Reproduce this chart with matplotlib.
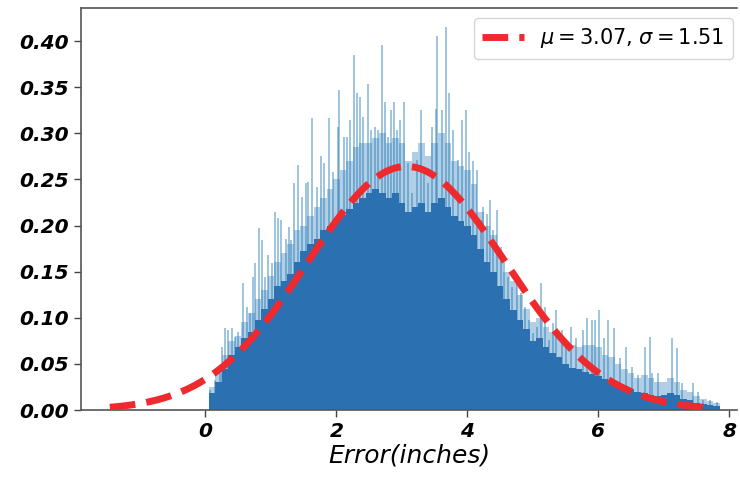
import numpy as np
import matplotlib
matplotlib.use("Agg")
import matplotlib.pyplot as plt

# fitted normal (from the legend)
mu = 3.07
sigma = 1.51

# histogram read at 0.1 wide bins: dense dark part and the lighter band above it
bin_x = [round(0.1 * i, 1) for i in range(1, 79)]
solid_h = [0.018, 0.030, 0.045, 0.060, 0.068, 0.078, 0.085, 0.098, 0.110, 0.120,
           0.135, 0.140, 0.148, 0.160, 0.172, 0.180, 0.185, 0.195, 0.200, 0.205,
           0.212, 0.218, 0.225, 0.230, 0.235, 0.240, 0.235, 0.230, 0.235, 0.225,
           0.215, 0.220, 0.225, 0.215, 0.225, 0.230, 0.220, 0.210, 0.205, 0.200,
           0.190, 0.175, 0.160, 0.150, 0.135, 0.120, 0.108, 0.098, 0.088, 0.075,
           0.078, 0.068, 0.062, 0.058, 0.050, 0.046, 0.044, 0.041, 0.039, 0.037,
           0.034, 0.031, 0.029, 0.026, 0.023, 0.020, 0.018, 0.016, 0.015, 0.016,
           0.018, 0.016, 0.012, 0.011, 0.008, 0.006, 0.005, 0.004]
mid_h = [0.025, 0.040, 0.060, 0.075, 0.080, 0.095, 0.105, 0.120, 0.130, 0.145,
         0.160, 0.170, 0.180, 0.195, 0.200, 0.210, 0.220, 0.230, 0.240, 0.250,
         0.260, 0.270, 0.285, 0.290, 0.290, 0.295, 0.300, 0.290, 0.295, 0.290,
         0.270, 0.280, 0.290, 0.275, 0.290, 0.300, 0.290, 0.270, 0.265, 0.260,
         0.245, 0.215, 0.200, 0.190, 0.170, 0.150, 0.140, 0.125, 0.110, 0.095,
         0.100, 0.090, 0.085, 0.080, 0.072, 0.070, 0.068, 0.070, 0.070, 0.068,
         0.060, 0.058, 0.050, 0.045, 0.040, 0.035, 0.038, 0.035, 0.030, 0.030,
         0.035, 0.030, 0.022, 0.020, 0.015, 0.012, 0.010, 0.008]

# tall single bins sticking out of the dense part
spike_x = [0.07, 0.15, 0.22, 0.25, 0.30, 0.34, 0.40, 0.45, 0.50, 0.58,
           0.63, 0.68, 0.73, 0.76, 0.81, 0.86, 0.91, 0.96, 1.01, 1.06,
           1.11, 1.16, 1.23, 1.27, 1.30, 1.35, 1.41, 1.47, 1.53, 1.57,
           1.63, 1.70, 1.77, 1.81, 1.89, 1.95, 2.02, 2.04, 2.11, 2.16,
           2.21, 2.27, 2.31, 2.36, 2.41, 2.48, 2.53, 2.59, 2.63, 2.70,
           2.74, 2.79, 2.83, 2.88, 2.92, 2.97, 3.03, 3.09, 3.15, 3.23,
           3.29, 3.34, 3.40, 3.46, 3.52, 3.54, 3.61, 3.67, 3.72, 3.78,
           3.85, 3.92, 3.98, 4.03, 4.09, 4.15, 4.20, 4.24, 4.30, 4.35,
           4.39, 4.45, 4.51, 4.56, 4.62, 4.68, 4.75, 4.82, 4.88, 4.94,
           5.00, 5.06, 5.12, 5.18, 5.24, 5.30, 5.35, 5.44, 5.51, 5.58,
           5.65, 5.76, 5.82, 5.90, 5.94, 6.01, 6.08, 6.14, 6.24, 6.33,
           6.42, 6.51, 6.61, 6.71, 6.78, 6.82, 6.91, 7.13, 7.20, 7.28,
           7.44, 7.52, 7.60, 7.70, 7.81]
spike_h = [0.022, 0.033, 0.047, 0.068, 0.089, 0.087, 0.089, 0.079, 0.085, 0.138,
           0.112, 0.105, 0.144, 0.159, 0.197, 0.184, 0.144, 0.168, 0.159, 0.215,
           0.208, 0.206, 0.186, 0.198, 0.184, 0.246, 0.266, 0.231, 0.246, 0.247,
           0.317, 0.242, 0.276, 0.268, 0.317, 0.258, 0.307, 0.347, 0.296, 0.296,
           0.314, 0.385, 0.344, 0.339, 0.318, 0.354, 0.304, 0.307, 0.304, 0.396,
           0.334, 0.296, 0.325, 0.334, 0.304, 0.314, 0.334, 0.268, 0.235, 0.271,
           0.325, 0.260, 0.246, 0.307, 0.327, 0.406, 0.325, 0.415, 0.344, 0.304,
           0.271, 0.314, 0.325, 0.280, 0.270, 0.260, 0.206, 0.220, 0.213, 0.228,
           0.195, 0.217, 0.177, 0.163, 0.144, 0.133, 0.148, 0.127, 0.112, 0.098,
           0.083, 0.090, 0.138, 0.112, 0.076, 0.094, 0.108, 0.087, 0.068, 0.090,
           0.078, 0.087, 0.100, 0.098, 0.098, 0.108, 0.078, 0.098, 0.089, 0.056,
           0.068, 0.047, 0.038, 0.068, 0.079, 0.040, 0.040, 0.078, 0.067, 0.029,
           0.029, 0.020, 0.011, 0.011, 0.009]

fig = plt.figure(figsize=(7.4, 4.8), dpi=100)
ax = fig.add_axes([81/740, 70/480, 656/740, 402/480])

ax.vlines(spike_x, 0, spike_h, colors='#1f77b4', alpha=0.55, lw=1.1, zorder=1)
ax.bar(bin_x, mid_h, width=0.1, color='#1f77b4', alpha=0.35, linewidth=0, zorder=1.5)
ax.bar(bin_x, solid_h, width=0.1, color='#2b71b1', linewidth=0, zorder=2)

xs = np.linspace(mu - 3*sigma, mu + 3*sigma, 200)
pdf = np.exp(-(xs - mu)**2 / (2*sigma**2)) / (sigma*np.sqrt(2*np.pi))
ax.plot(xs, pdf, '--', color='#ee2a2e', lw=5, zorder=3,
        label=r'$\mu=%.2f$, $\sigma=%.2f$' % (mu, sigma))

ax.set_xlim(-1.90, -1.90 + 656/65.5)
ax.set_ylim(0, 0.436)
ax.set_xticks([0, 2, 4, 6, 8])
ax.set_yticks(np.arange(0, 0.41, 0.05))
ax.yaxis.set_major_formatter(matplotlib.ticker.FormatStrFormatter('%.2f'))
for lab in ax.get_xticklabels() + ax.get_yticklabels():
    lab.set_fontweight('bold')
    lab.set_fontstyle('italic')
    lab.set_fontsize(14.5)
ax.tick_params(length=5, width=1, color='#444444')
for s in ax.spines.values():
    s.set_color('#555555')
    s.set_linewidth(1.2)
ax.spines['right'].set_visible(False)

ax.set_xlabel('Error(inches)', fontsize=18, fontstyle='italic', labelpad=2)

ax.legend(loc='upper right', bbox_to_anchor=(733/740, 1 - 18/480),
          bbox_transform=fig.transFigure, borderaxespad=0, fontsize=15)

fig.savefig('out.png', dpi=100)
